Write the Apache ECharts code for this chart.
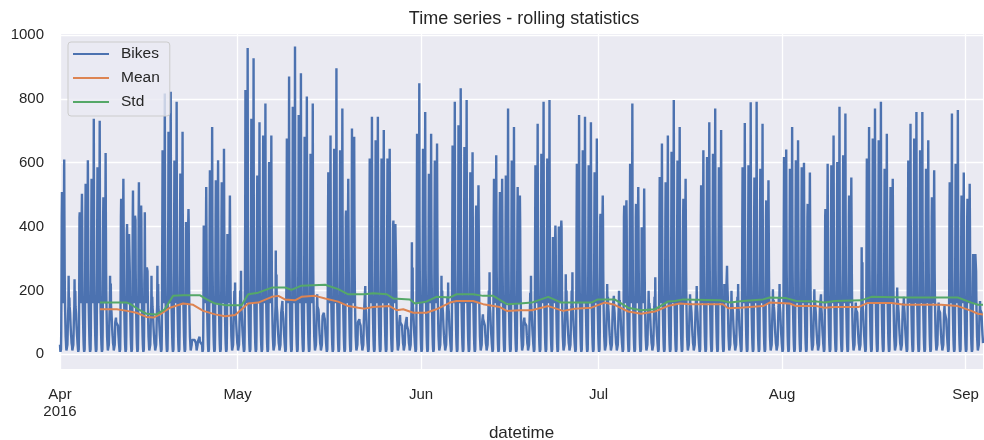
<!DOCTYPE html>
<html><head><meta charset="utf-8">
<script src="https://cdn.jsdelivr.net/npm/echarts@6/dist/echarts.min.js"></script>
<style>html,body{margin:0;padding:0;background:#fff}#c{width:984px;height:440px}</style>
</head><body><div id="c"></div>
<script>
// ---- data ----
// daily peaks (day 0 = 2016-04-01); weekdays: morning / evening commute peak, weekends: two daytime peaks
const peakFirst = [
508,246,235,445,534,550,586,492,246,115,487,408,513,539,445,246,277,639,697,607,
566,414,45,40,403,576,545,539,377,199,200,828,738,560,685,602,325,136,676,775,
749,681,628,188,120,570,644,639,450,707,100,150,613,670,613,613,419,123,90,351,
691,644,565,607,246,180,654,717,649,570,466,125,200,550,508,560,607,524,115,193,
592,628,613,367,400,251,200,597,639,592,570,440,220,150,199,466,597,471,398,199,
180,555,539,634,607,487,188,170,529,618,628,586,225,199,180,586,592,554,581,482,
204,180,618,581,608,586,471,204,150,455,592,602,623,497,162,335,613,676,670,581,
524,209,160,607,676,639,581,492,162,152,539,597,497,487,314,167];
const peakSecond = [
610,178,199,503,608,738,731,630,222,100,550,377,434,466,272,180,220,817,822,791,
697,455,50,55,524,712,608,644,497,225,262,959,927,727,785,685,250,167,870,964,
880,807,785,150,130,685,896,770,550,681,110,214,744,744,702,644,408,100,117,272,
849,759,691,660,200,225,791,833,796,633,529,110,257,623,550,770,712,497,100,246,
722,791,796,403,419,200,257,749,744,727,676,497,180,183,170,482,785,524,519,160,
241,660,685,796,712,550,160,214,639,727,770,702,277,160,220,724,789,791,722,545,
170,220,641,712,670,600,569,170,188,597,685,775,754,554,140,288,712,770,791,691,
550,170,180,722,759,759,670,576,140,130,754,765,569,534,320,140];
const holidayDays = [59, 94]; // May 30, Jul 4
// typical hourly levels (hours 0..23) read from the dense band of the chart; 'A'/'B' = the day's peaks
const weekdayHours = [30,15,8,6,15,70,220,430,'A',330,180,160,170,160,180,260,440,'B',420,260,180,130,90,55];
const weekendHours = [40,25,12,8,6,10,30,60,100,130,150,'A',160,150,'B',150,140,130,110,90,75,60,50,35];

// 7-day rolling mean / std: day offsets and values
const meanDays = [6.75,9.6,11.3,12.9,14.6,15.8,16.9,18.6,20.8,22.5,24.2,26.2,27.9,29.6,30.7,31.8,33.5,35.8,36.9,38,39.7,40.8,43.1,44.8,47,48.7,50.4,51.5,52.9,55.7,56.9,58,59.7,61.9,63.6,65.9,67,69.8,71.5,74.3,75.5,77.7,79.7,82.5,85,87,89.8,92,93.7,96,98.2,100.5,102.7,104.7,106.4,112,112.9,114.9,118.8,119.9,123.3,124.4,127.8,129.2,130.9,134.9,136.5,140.5,142.7,148.9,151.7,154,155.1,155.96];
const meanVals = [141,141,136,130,117,115,125,146,159,155,136,125,119,123,141,159,162,180,183,172,169,180,183,175,165,151,146,143,148,151,138,141,130,130,141,162,167,167,157,148,136,138,138,151,136,143,146,162,155,134,127,134,151,159,157,157,144,146,151,162,159,151,151,146,148,148,161,161,155,155,151,136,127,125];
const stdDays = [6.75,11.3,11.9,13.5,14.6,16.3,17.7,19.1,20.8,23.6,24.8,26.2,27.9,30.7,31.8,33.5,35.8,38,39.1,40.8,44.8,47,48.7,51.5,52.9,55.2,56.3,59.1,59.97,61.9,63.6,65.9,67,69.8,71.5,73.2,75.5,77.7,79.7,82.5,84.7,89.8,90.9,93.7,96,98.2,100.5,102.7,103.9,105.3,111.5,113.2,115.4,118.8,119.9,122.7,124.4,127.8,129.2,130.9,135.4,137.1,142.7,151.7,154,155.1,155.96];
const stdVals = [162,162,157,138,127,125,141,183,185,185,172,159,154,154,188,193,209,209,202,215,218,204,188,188,191,188,175,172,159,165,180,178,188,188,183,183,157,159,162,180,162,162,172,172,146,138,141,165,167,172,169,162,167,172,178,176,167,165,162,167,169,180,178,178,162,155,155];

const monthTicks = ['2016-04-01','2016-05-01','2016-06-01','2016-07-01','2016-08-01','2016-09-01'];
const monthLabels = ['Apr\n2016','May','Jun','Jul','Aug','Sep'];
const yTicks = [0,200,400,600,800,1000];

// ---- build ----
const HOUR = 3600000, DAY = 86400000;
const t0 = new Date(2016,3,1).getTime();
function parseLocal(s){const p=s.split('-').map(Number);return new Date(p[0],p[1]-1,p[2]).getTime();}
const tickVals = monthTicks.map(parseLocal);

const bikes = [];
for (let d = 0; d < peakFirst.length; d++) {
  const dow = new Date(t0 + d*DAY + 12*HOUR).getDay();
  const weekend = dow === 0 || dow === 6 || holidayDays.indexOf(d) >= 0;
  const A = peakFirst[d], B = peakSecond[d];
  const cap = Math.min(A, B);
  (weekend ? weekendHours : weekdayHours).forEach((v, h) => {
    const val = v === 'A' ? A : v === 'B' ? B : Math.min(v, cap);
    bikes.push([t0 + (d*24 + h)*HOUR, val]);
  });
}
const meanData = meanDays.map((d,i)=>[t0 + d*DAY, meanVals[i]]);
const stdData = stdDays.map((d,i)=>[t0 + d*DAY, stdVals[i]]);
const xMax = t0 + ((peakFirst.length-1)*24 + 23)*HOUR;

const FONT = 'Liberation Sans, Arial, sans-serif';
const TXT = '#262626';
const chart = echarts.init(document.getElementById('c'), null, {renderer:'canvas'});
chart.setOption({
  animation: false,
  backgroundColor: '#ffffff',
  title: { text: 'Time series - rolling statistics', left: 519, top: 5, textAlign: 'center',
    textStyle: { fontFamily: FONT, fontSize: 18, fontWeight: 'normal', color: TXT } },
  legend: { orient: 'vertical', left: 68, top: 42, padding: [4, 10, 6, 5], itemGap: 8,
    itemWidth: 36, itemHeight: 2, icon: 'rect',
    backgroundColor: 'rgba(234,234,242,0.8)', borderColor: '#cccccc', borderWidth: 1, borderRadius: 3,
    textStyle: { fontFamily: FONT, fontSize: 15.5, color: TXT, lineHeight: 16, padding: [0,0,0,7] },
    data: ['Bikes','Mean','Std'] },
  grid: { left: 60, right: 1, top: 34, bottom: 71, show: true, backgroundColor: '#EAEAF2', borderWidth: 0,
    containLabel: false, outerBoundsMode: 'none' },
  xAxis: { type: 'value', min: t0, max: xMax, scale: true,
    axisLine: { show: false }, axisTick: { show: false, customValues: tickVals },
    axisLabel: { customValues: tickVals, fontFamily: FONT, fontSize: 15, color: TXT, margin: 17, lineHeight: 17,
      formatter: function(v){ const i = tickVals.indexOf(+v); return i >= 0 ? monthLabels[i] : ''; } },
    splitLine: { show: true, lineStyle: { color: '#ffffff', width: 1.3 } },
    name: 'datetime', nameLocation: 'middle', nameGap: 50,
    nameTextStyle: { fontFamily: FONT, fontSize: 17, color: TXT } },
  yAxis: { type: 'value', min: -46, max: 1003,
    axisLine: { show: false }, axisTick: { show: false, customValues: yTicks },
    axisLabel: { customValues: yTicks, fontFamily: FONT, fontSize: 15, color: TXT, margin: 16,
      padding: [6, 0, 0, 0], formatter: function(v){ return String(v); } },
    splitLine: { show: true, lineStyle: { color: '#ffffff', width: 1.3 } } },
  series: [
    { name: 'Bikes', type: 'line', data: bikes, symbol: 'none', showSymbol: false,
      lineStyle: { width: 2.4, color: '#4C72B0' }, itemStyle: { color: '#4C72B0' }, z: 2 },
    { name: 'Mean', type: 'line', data: meanData, symbol: 'none', showSymbol: false,
      lineStyle: { width: 2, color: '#DD8452' }, itemStyle: { color: '#DD8452' }, z: 3 },
    { name: 'Std', type: 'line', data: stdData, symbol: 'none', showSymbol: false,
      lineStyle: { width: 2, color: '#55A868' }, itemStyle: { color: '#55A868' }, z: 4 }
  ]
});
</script>
</body></html>
